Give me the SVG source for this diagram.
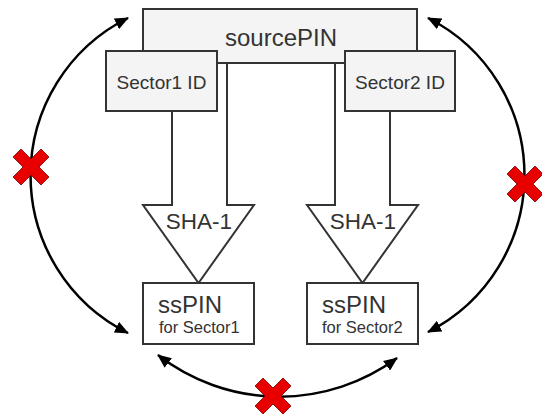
<svg xmlns="http://www.w3.org/2000/svg" width="542" height="419" viewBox="0 0 542 419">
<style>
.box{fill:#f4f4f4;stroke:#333;stroke-width:2}
.wbox{fill:#fff;stroke:#333;stroke-width:2}
.arrow{fill:#fff;stroke:#333;stroke-width:2;stroke-linejoin:miter}
.t{font-family:"Liberation Sans",Arial,sans-serif;fill:#333}
.arc{fill:none;stroke:#000;stroke-width:2.5}
.x{fill:#e80000;stroke:#700;stroke-width:0.8}
</style>
<defs>
<marker id="ah" viewBox="0 0 14 12" refX="13" refY="6" markerWidth="14" markerHeight="12" markerUnits="userSpaceOnUse" orient="auto-start-reverse">
<path d="M0,0 L14,6 L0,12 Z" fill="#000"/>
</marker>
<path id="cross" d="M-18,-10 L-10,-18 L0,-8 L10,-18 L18,-10 L8,0 L18,10 L10,18 L0,8 L-10,18 L-18,10 L-8,0 Z"/>
</defs>
<g id="sha1-left">
<path class="arrow" d="M172,105 L172,205 L143,205 L198.5,283 L254,205 L227,205 L227,60"/>
<text class="t" x="199" y="229" font-size="22.5" text-anchor="middle">SHA-1</text>
</g>
<g id="sha1-right">
<path class="arrow" d="M335,60 L335,205 L307,205 L362.5,283 L418,205 L390,205 L390,105"/>
<text class="t" x="363" y="229" font-size="22.5" text-anchor="middle">SHA-1</text>
</g>
<g id="sourcePIN">
<rect class="box" x="143" y="9" width="274" height="54"/>
<text class="t" x="281" y="46" font-size="24" text-anchor="middle">sourcePIN</text>
</g>
<g id="sector1">
<rect class="box" x="106" y="51" width="111" height="60"/>
<text class="t" x="161.5" y="89" font-size="19" text-anchor="middle">Sector1 ID</text>
</g>
<g id="sector2">
<rect class="box" x="345" y="51" width="110" height="60"/>
<text class="t" x="400" y="89" font-size="19" text-anchor="middle">Sector2 ID</text>
</g>
<g id="sspin1">
<rect class="wbox" x="143" y="283" width="111" height="61"/>
<text class="t" x="158" y="313" font-size="24">ssPIN</text>
<text class="t" x="159" y="333" font-size="16.5">for Sector1</text>
</g>
<g id="sspin2">
<rect class="wbox" x="307" y="283" width="111" height="61"/>
<text class="t" x="322" y="313" font-size="24">ssPIN</text>
<text class="t" x="322" y="333" font-size="16.5">for Sector2</text>
</g>
<g id="connectors">
<path class="arc" d="M128,18 A176,176 0 0 0 128,333" marker-start="url(#ah)" marker-end="url(#ah)"/>
<path class="arc" d="M428,18 A176,176 0 0 1 428,332" marker-start="url(#ah)" marker-end="url(#ah)"/>
<path class="arc" d="M158,355 A198,198 0 0 0 397,358" marker-start="url(#ah)" marker-end="url(#ah)"/>
<use href="#cross" class="x" transform="translate(31,167)"/>
<use href="#cross" class="x" transform="translate(525,184)"/>
<use href="#cross" class="x" transform="translate(273,396)"/>
</g>
</svg>
